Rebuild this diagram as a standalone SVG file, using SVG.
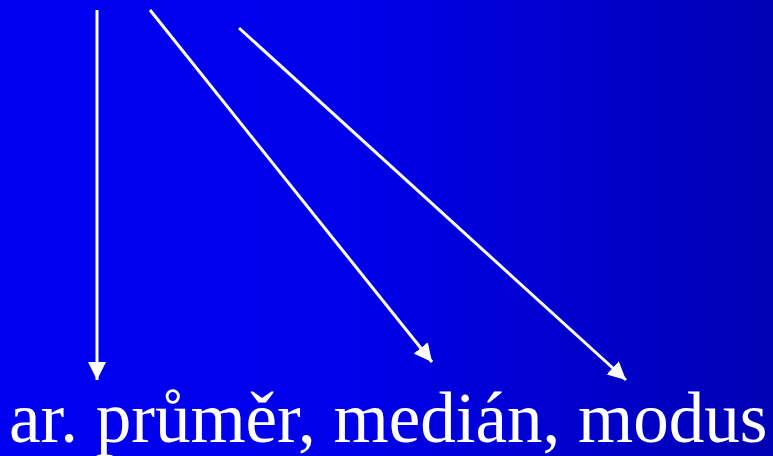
<svg xmlns="http://www.w3.org/2000/svg" width="773" height="456" viewBox="0 0 773 456">
<defs>
<linearGradient id="bg" x1="0" y1="0" x2="1" y2="0">
<stop offset="0" stop-color="#0000F2"/>
<stop offset="0.45" stop-color="#0000EA"/>
<stop offset="1" stop-color="#0000B4"/>
</linearGradient>
<marker id="ah" markerUnits="userSpaceOnUse" markerWidth="20" markerHeight="20" refX="18" refY="9" orient="auto" viewBox="0 0 20 18">
<path d="M0,0 L18,9 L0,18 Z" fill="#FFFFFF"/>
</marker>
<style>
.conn{stroke:#FFFFFF;stroke-width:3;fill:none;marker-end:url(#ah)}
.lbl{font-family:"Liberation Serif","Times New Roman",serif;fill:#FFFFFF}
</style>
</defs>
<rect width="773" height="456" fill="url(#bg)"/>
<g id="connectors">
<line class="conn" x1="97" y1="10" x2="97" y2="380"/>
<line class="conn" x1="150" y1="10" x2="432" y2="362"/>
<line class="conn" x1="239" y1="28" x2="626" y2="380"/>
</g>
<g id="label">
<text class="lbl" x="9" y="442" font-size="71">ar. průměr, medián, modus</text>
</g>
</svg>
